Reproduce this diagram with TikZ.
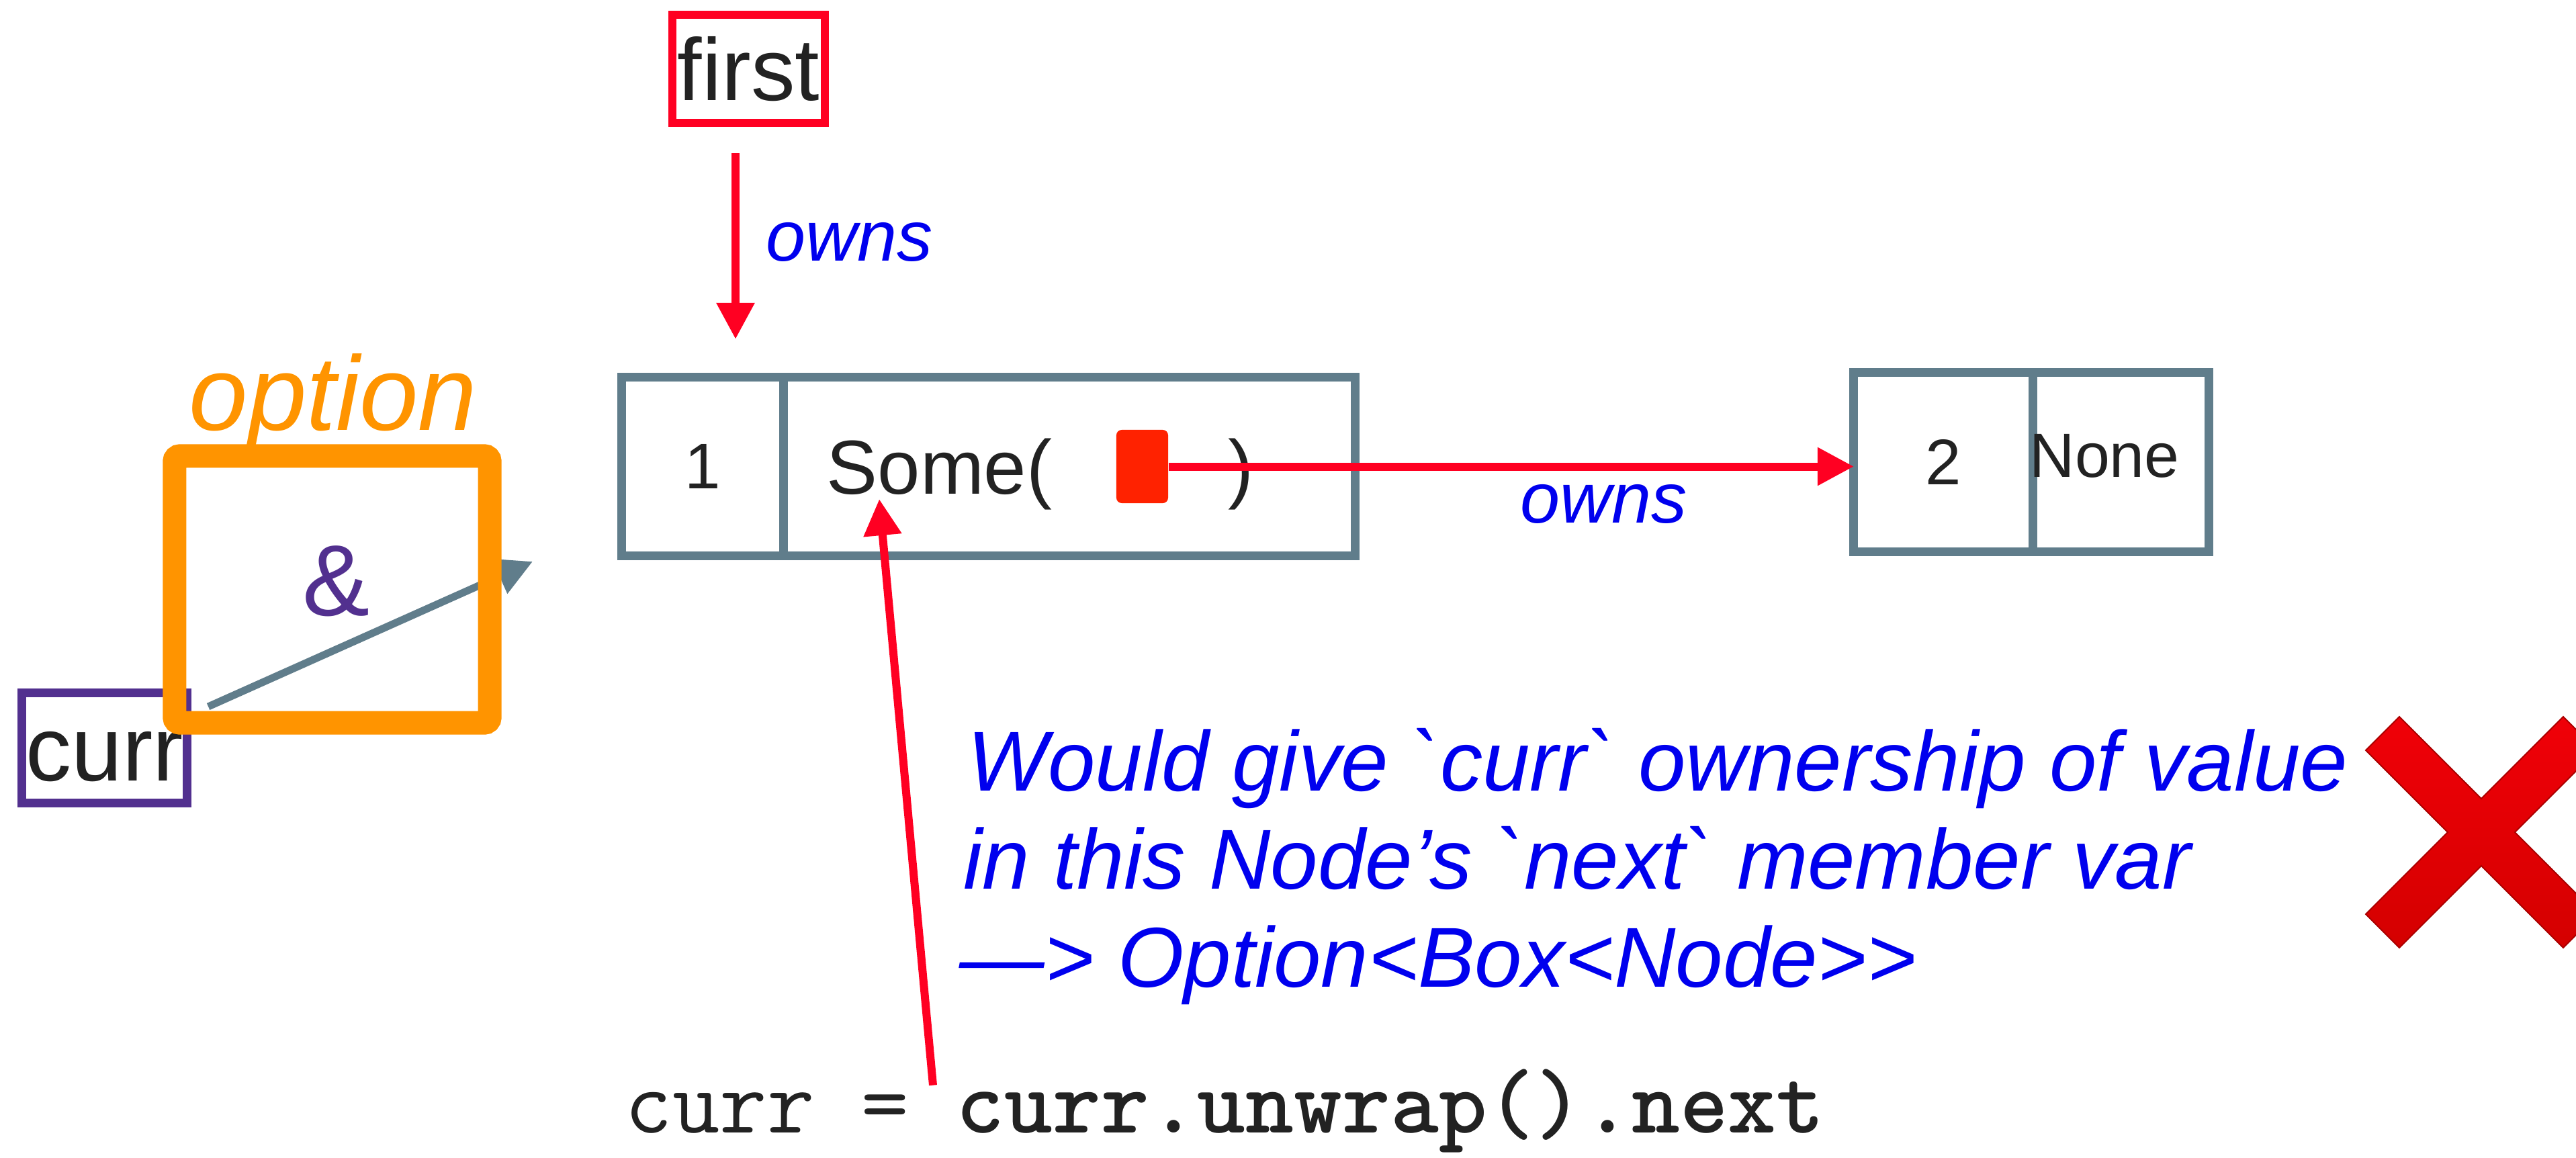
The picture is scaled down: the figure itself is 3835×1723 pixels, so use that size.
\documentclass[tikz,border=0pt]{standalone}
\usepackage{fontspec}
\setmainfont{Liberation Sans}
\usetikzlibrary{arrows.meta}
\usetikzlibrary{positioning}
\usetikzlibrary{calc}

\definecolor{cellgray}{HTML}{607D8B}
\definecolor{ownred}{HTML}{FF0022}
\definecolor{ptrred}{HTML}{FF2200}
\definecolor{optorange}{HTML}{FF9400}
\definecolor{refpurple}{HTML}{52308F}
\definecolor{noteblue}{HTML}{0000EE}
\definecolor{inkgray}{HTML}{222222}
\definecolor{crosstop}{HTML}{F00008}
\definecolor{crossbot}{HTML}{D40000}

\tikzset{
    cell/.style={draw=cellgray, line width=0.13cm, minimum height=2.65cm,
        inner sep=0pt, outer sep=0pt, text=inkgray, font=\fontsize{27.3}{30}\selectfont},
    celltext/.style={anchor=base west, inner sep=0pt, text=inkgray, font=\fontsize{32.4}{35}\selectfont},
    nonetext/.style={anchor=base west, inner sep=0pt, text=inkgray, font=\fontsize{26.5}{29}\selectfont},
    ptrbox/.style={fill=ptrred, rounded corners=0.08cm, minimum width=0.77cm, minimum height=1.09cm, inner sep=0pt},
    namebox/.style={line width=0.12cm, inner sep=0pt, outer sep=0pt, text=inkgray},
    optbox/.style={draw=optorange, line width=0.35cm, rounded corners=0.08cm,
        minimum width=4.69cm, minimum height=3.97cm, inner sep=0pt, outer sep=0pt},
    ownarrow/.style={draw=ownred, line width=0.12cm, -{Triangle[length=0.54cm,width=0.54cm]}},
    refarrow/.style={draw=cellgray, line width=0.11cm, -{Triangle[length=0.54cm,width=0.54cm]}},
    ownslabel/.style={anchor=base west, inner sep=0pt, text=noteblue, font=\fontsize{30.2}{33}\selectfont\itshape},
    notetext/.style={anchor=base west, inner sep=0pt, text=noteblue, font=\fontsize{36}{41.5}\selectfont\itshape},
    codetext/.style={anchor=base west, inner sep=0pt, text=inkgray, font=\fontsize{38.9}{42}\selectfont\ttfamily}
}

\begin{document}
\begin{tikzpicture}[x=0.01cm, y=-0.01cm]
\useasboundingbox (0,0) rectangle (3835,1723);
% list nodes
\node[cell, minimum width=2.40cm] (val1) at (1046,694.5) {1};
\node[cell, minimum width=8.51cm, right=0pt of val1] (nxt1) {};
\node[cell, minimum width=2.66cm, minimum height=2.66cm] (val2) at (2893,688) {2};
\node[cell, minimum width=2.62cm, minimum height=2.66cm, right=0pt of val2] (nxt2) {};
% next fields
\node[celltext] (some) at (1230,735) {Some(};
\node[ptrbox] (ptr) at (1700.5,694.5) {};
\node[celltext] (close) at (1828,735) {)};
\node[nonetext] (none) at (3021,710) {None};
% first owns node 1
\node[namebox, draw=ownred, minimum width=2.27cm, minimum height=1.61cm,
    font=\fontsize{37.3}{40}\selectfont] (first) at (1114.5,102.5) {first};
\coordinate (hold) at ($(val1.north)+(49,-57)$);
\draw[ownarrow] ($(first.south -| hold)+(0,45)$) -- (hold);
\node[ownslabel] (owns1) at (1140,388) {owns};
% node 1 owns node 2
\draw[ownarrow] (ptr.east) -- (ptr.east -| val2.west);
\node[ownslabel] (owns2) at (2263,778) {owns};
% curr borrows the option
\node[namebox, draw=refpurple, line width=0.13cm, minimum width=2.45cm, minimum height=1.63cm,
    text height=0.97cm, text depth=0pt, font=\fontsize{38.7}{41}\selectfont] (curr) at (155.5,1113.5) {curr};
\coordinate (aim) at (793,836);
\draw[refarrow] ($(curr.north east)+(32,20)$) -- (aim);
\node[optbox] (opt) at (494.5,877.5) {};
\node[text=refpurple, inner sep=0pt, font=\fontsize{42.7}{45}\selectfont] (amp) at (501,865) {\&};
\node[anchor=base west, inner sep=0pt, text=optorange, font=\fontsize{44.7}{48}\selectfont\itshape] (optname) at (281,640) {option};
% code line
\node[codetext] (code) at (930,1686) {curr = \textbf{curr.unwrap().next}};
\draw[ownarrow] ($(code.north west)+(459,25)$) -- ($(some.base west)+(79,8)$);
% note
\node[notetext] (note1) at (1440,1177) {Would give \textasciigrave curr\textasciigrave{} ownership of value};
\node[notetext] (note2) at (1434,1323) {in this Node’s \textasciigrave next\textasciigrave{} member var};
\node[notetext] (note3) at (1428,1469) {—> Option<Box<Node>{}>};
% cross
\path[draw=crossbot!80!black, line width=0.02cm, top color=crosstop, bottom color=crossbot]
    (3694,1189) -- (3816,1067) -- (3866,1117) -- (3744,1239) -- (3866,1361) -- (3816,1411)
    -- (3694,1289) -- (3572,1411) -- (3522,1361) -- (3644,1239) -- (3522,1117) -- (3572,1067) -- cycle;
\end{tikzpicture}
\end{document}
